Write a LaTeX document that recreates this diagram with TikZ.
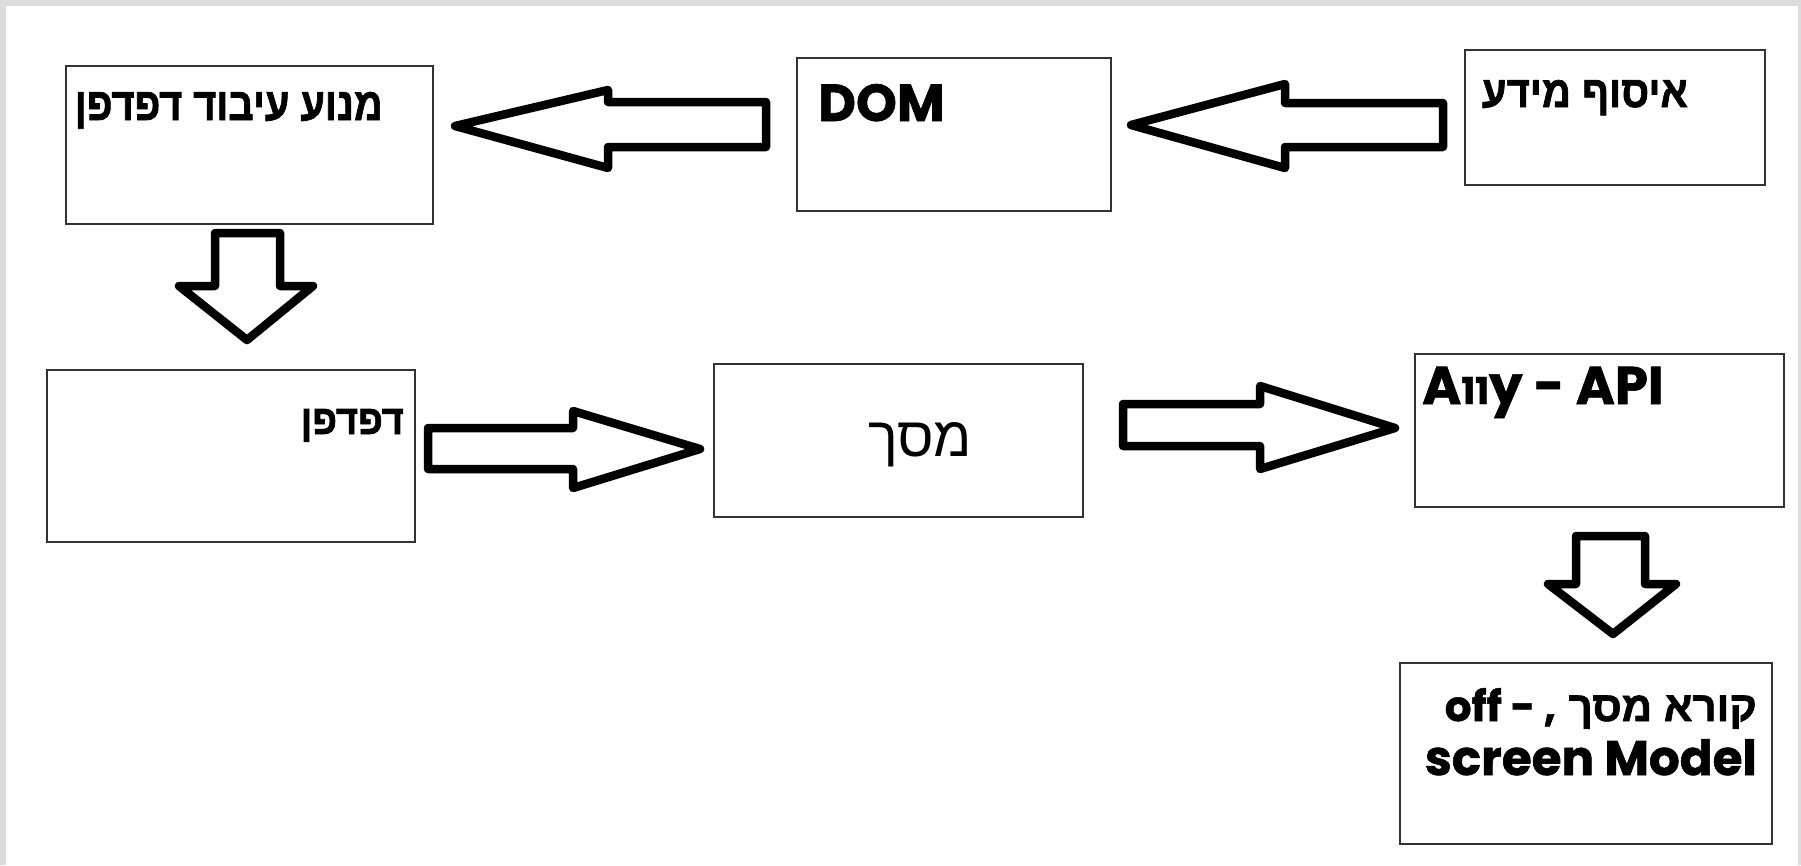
\documentclass[tikz,border=0pt]{standalone}
\usepackage{fontspec}
\TeXXeTstate=1
\newfontfamily\heb[Script=Hebrew, BoldFeatures={FakeBold=1.6}]{Liberation Sans}
\newfontfamily\latb[BoldFeatures={FakeBold=1.2}]{Poppins}
\definecolor{framegray}{HTML}{DCDCDC}
\begin{document}
\begin{tikzpicture}[x=1pt,y=-1pt,
  box/.style={draw=black!80, line width=2.2pt, rectangle, anchor=north west, inner sep=0pt},
  barrow/.style={draw=black, line width=8.5pt, line join=round, fill=white},
  txt/.style={inner sep=0pt}]
\useasboundingbox (0,0) rectangle (1801,865);
\fill[framegray] (0,0) rectangle (1801,865);
\fill[white] (6,6) rectangle (1798,865);

% boxes
\node[box, minimum width=367pt, minimum height=158pt] (b1) at (65,65) {};
\node[box, minimum width=314pt, minimum height=153pt] (b2) at (796,57) {};
\node[box, minimum width=300pt, minimum height=135pt] (b3) at (1464,49) {};
\node[box, minimum width=368pt, minimum height=172pt] (b4) at (46,369) {};
\node[box, minimum width=369pt, minimum height=153pt] (b5) at (713,363) {};
\node[box, minimum width=369pt, minimum height=153pt] (b6) at (1414,353) {};
\node[box, minimum width=372pt, minimum height=181pt] (b7) at (1399,662) {};

% texts
\node[txt, anchor=base east] (t1) at (383,120)
  {\resizebox{308pt}{28pt}{\heb\bfseries\beginR מנוע עיבוד דפדפן\endR}};
\node[txt, anchor=base west] (t2) at (818,121)
  {\latb\bfseries\fontsize{52}{60}\selectfont DOM};
\node[txt, anchor=base east] (t3) at (1688,107)
  {\resizebox{206pt}{27pt}{\heb\bfseries\beginR איסוף מידע\endR}};
\node[txt, anchor=base east] (t4) at (404,434)
  {\resizebox{103pt}{25pt}{\heb\bfseries\beginR דפדפן\endR}};
\node[txt, anchor=base west] (t5) at (868,456)
  {\resizebox{104pt}{34pt}{\heb\beginR מסך\endR}};
\node[txt, anchor=base west] (t6) at (1422,404)
  {\latb\bfseries\fontsize{53}{60}\selectfont A{\fontsize{37}{44}\selectfont 11}y - API};
\node[txt, anchor=base east] (t7a) at (1757,721)
  {\resizebox{312pt}{!}{\fontsize{44}{52}\selectfont{\latb\bfseries off - ,} {\heb\bfseries\beginR קורא מסך\endR}}};
\node[txt, anchor=base east] (t7b) at (1757,775)
  {\resizebox{332pt}{!}{\latb\bfseries\fontsize{46}{54}\selectfont screen Model}};

% block arrows
\draw[barrow] (455,126) -- (608,90) -- (608,102) -- (766,102) -- (766,147) -- (608,147) -- (608,168) -- cycle;
\draw[barrow] (1131,125) -- (1285,84) -- (1285,103) -- (1443,103) -- (1443,147) -- (1285,147) -- (1285,168) -- cycle;
\draw[barrow] (215,233) -- (280,233) -- (280,286) -- (313,286) -- (247,340) -- (179,286) -- (215,286) -- cycle;
\draw[barrow] (428,428) -- (573,428) -- (573,411) -- (700,449) -- (573,488) -- (573,469) -- (428,469) -- cycle;
\draw[barrow] (1123,404) -- (1260,404) -- (1260,386) -- (1395,428) -- (1260,469) -- (1260,446) -- (1123,446) -- cycle;
\draw[barrow] (1576,536) -- (1645,536) -- (1645,584) -- (1676,584) -- (1613,634) -- (1548,584) -- (1576,584) -- cycle;
\end{tikzpicture}
\end{document}
